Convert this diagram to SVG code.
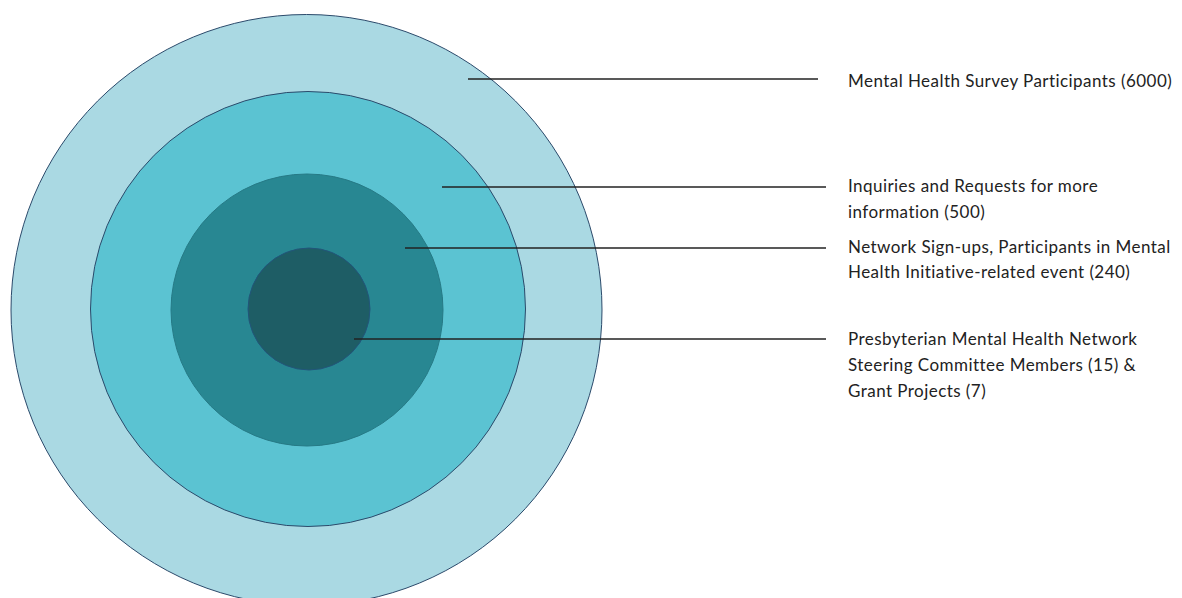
<svg xmlns="http://www.w3.org/2000/svg" width="1182" height="598" viewBox="0 0 1182 598">
<style>
.ring{stroke:#2b4a6b;stroke-width:1}
.lbl{font-family:Lato,"Open Sans","Liberation Sans",sans-serif;font-size:17px;letter-spacing:0.45px;fill:#222}
.con{stroke:#222;stroke-width:1.5;fill:none}
</style>
<rect width="1182" height="598" fill="#ffffff"/>
<g id="ring-survey"><circle class="ring" cx="306.5" cy="310" r="295.5" fill="#aad9e3"/></g>
<g id="ring-inquiries"><circle class="ring" cx="308" cy="309" r="217.5" fill="#5bc3d2"/></g>
<g id="ring-network"><circle cx="307" cy="310" r="136" fill="#288792" stroke="#267a86" stroke-width="1"/></g>
<g id="ring-core"><circle cx="309" cy="309" r="61" fill="#1e5d65" stroke="#22557a" stroke-width="1"/></g>
<g id="connectors">
<line class="con" x1="468" y1="79" x2="818" y2="79"/>
<line class="con" x1="442" y1="187" x2="826" y2="187"/>
<line class="con" x1="405" y1="248" x2="826" y2="248"/>
<line class="con" x1="354" y1="339" x2="826" y2="339"/>
</g>
<g id="label-survey"><text class="lbl" x="848" y="87">Mental Health Survey Participants (6000)</text></g>
<g id="label-inquiries"><text class="lbl" x="848" y="192">Inquiries and Requests for more</text><text class="lbl" x="848" y="218">information (500)</text></g>
<g id="label-network"><text class="lbl" x="848" y="253">Network Sign-ups, Participants in Mental</text><text class="lbl" x="848" y="278">Health Initiative-related event (240)</text></g>
<g id="label-core"><text class="lbl" x="848" y="345">Presbyterian Mental Health Network</text><text class="lbl" x="848" y="371">Steering Committee Members (15) &amp;</text><text class="lbl" x="848" y="397">Grant Projects (7)</text></g>
</svg>
